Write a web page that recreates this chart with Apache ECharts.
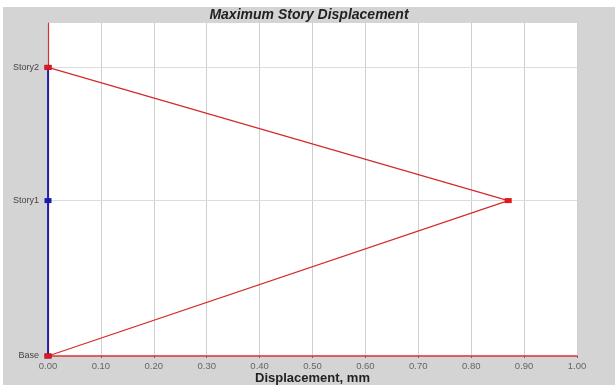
<!DOCTYPE html>
<html><head><meta charset="utf-8">
<script src="https://cdn.jsdelivr.net/npm/echarts@6/dist/echarts.min.js"></script>
<style>
html,body{margin:0;padding:0;background:#fff;width:615px;height:385px;overflow:hidden;}
#c{position:absolute;left:3px;top:7px;width:612px;height:378px;background:#d4d4d4;}
</style></head><body>
<div id="c"></div>
<script>
const storyNames = ['Base', 'Story1', 'Story2'];
const storyHeights = [0, 3.5, 6.5];
const dispX = [0, 0.87, 0];
const dispY = [0, 0, 0];

const chart = echarts.init(document.getElementById('c'), null, {renderer:'canvas'});
const nameOf = v => { const i = storyHeights.indexOf(v); return i >= 0 ? storyNames[i] : ''; };
const ptsY = storyHeights.map((h,i)=>[dispY[i],h]);
const ptsX = storyHeights.map((h,i)=>[dispX[i],h]);
chart.setOption({
  animation:false,
  backgroundColor:'#d4d4d4',
  title:{text:'Maximum Story Displacement', left:'center', top:1, padding:0,
    textStyle:{fontFamily:'Liberation Sans', fontSize:14, fontWeight:'bold', fontStyle:'italic', color:'#222'}},
  grid:{left:45, top:16, right:38, bottom:29, show:true, backgroundColor:'#ffffff', borderWidth:0,
    outerBoundsMode:'none', containLabel:false},
  xAxis:{type:'value', min:0, max:1, interval:0.1,
    name:'Displacement, mm', nameLocation:'middle', nameGap:16, nameMoveOverlap:false,
    nameTextStyle:{fontFamily:'Liberation Sans', fontSize:13, fontWeight:'bold', color:'#222'},
    axisLine:{show:true, lineStyle:{color:'#e03030', width:1.5}},
    axisTick:{show:true, length:2, lineStyle:{color:'#666'}},
    axisLabel:{fontFamily:'Liberation Sans', fontSize:9.5, color:'#666', margin:5, formatter:v=>v.toFixed(2)},
    splitLine:{show:true, lineStyle:{color:'#cfcfcf', width:1}}
  },
  yAxis:{type:'value', min:0, max:7.5,
    axisLine:{show:true, lineStyle:{color:'#d83030', width:1.2}},
    axisTick:{show:false},
    axisLabel:{customValues:storyHeights, fontFamily:'Liberation Sans', fontSize:9, color:'#444', margin:9, formatter:v=>nameOf(v)},
    splitLine:{show:false}
  },
  series:[
    {type:'line', data:[], z:0, silent:true,
     markLine:{silent:true, symbol:'none', label:{show:false}, z:0,
       lineStyle:{color:'#dcdcdc', type:'solid', width:1},
       data:storyHeights.slice(1).map(h=>({yAxis:h}))}},
    {type:'line', data:ptsY, color:'#1a1ab0', showSymbol:false, symbol:'none', z:3,
     lineStyle:{width:1.8, color:'#1a1ab0'}},
    {type:'scatter', data:ptsY, symbol:'rect', symbolSize:[7,5], z:4,
     itemStyle:{color:'#1a1ab0', opacity:1}},
    {type:'line', data:ptsX, color:'#d42a2a', showSymbol:false, symbol:'none',
     lineStyle:{width:1.2, color:'#d42a2a'}, z:5},
    {type:'scatter', data:[ptsX[0], ptsX[1], ptsX[2]], symbol:'rect', symbolSize:[7,5], z:6,
     itemStyle:{color:'#e01818', opacity:1}}
  ]
});
</script></body></html>
